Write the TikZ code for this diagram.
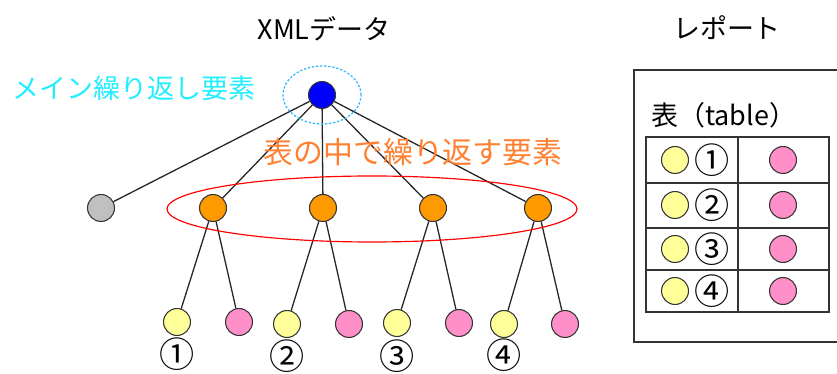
\documentclass[tikz,border=0pt]{standalone}
\usepackage{fontspec}
\setmainfont{Noto Sans CJK JP}
\usetikzlibrary{shapes}
\usepackage{xcolor}

\definecolor{rootblue}{HTML}{0000FF}
\definecolor{rowgray}{HTML}{C0C0C0}
\definecolor{rowor}{HTML}{FF9900}
\definecolor{keyyel}{HTML}{FFFF99}
\definecolor{valpink}{HTML}{FF8FC8}
\definecolor{labcyan}{HTML}{22EEFF}
\definecolor{laborange}{HTML}{FF8030}
\definecolor{ringblue}{HTML}{33BBFF}

\newcommand{\jpbig}{\fontsize{23pt}{26pt}\selectfont}
\newcommand{\jphuge}{\fontsize{25.5pt}{28pt}\selectfont}
\newcommand{\numfont}{\fontsize{30pt}{32pt}\selectfont}

\tikzset{
  elem/.style={circle,draw=black!80,line width=0.9pt,minimum size=23pt,inner sep=0pt},
  edge/.style={line width=1.1pt,black!85},
  txt/.style={inner sep=0pt,font=\jpbig},
  num/.style={inner sep=0pt,font=\numfont}
}

\begin{document}
\begin{tikzpicture}[x=0.03cm,y=-0.03cm]
          \useasboundingbox (0,0) rectangle (837,374);

          % titles
          \node[txt] (xmltitle) at (324,29) {XMLデータ};
          \node[txt] (reptitle) at (727,28) {レポート};

          % tree
          \node[elem,fill=rootblue] (root) at (322,95) {};
          \node[elem,fill=rowgray] (g) at (101,208) {};
          \node[elem,fill=rowor] (o1) at (213,208) {};
          \node[elem,fill=rowor] (o2) at (323,208) {};
          \node[elem,fill=rowor] (o3) at (433,208) {};
          \node[elem,fill=rowor] (o4) at (538,208) {};
          \node[elem,fill=keyyel] (y1) at (177,322) {};
          \node[elem,fill=valpink] (p1) at (239,322) {};
          \node[elem,fill=keyyel] (y2) at (287,324) {};
          \node[elem,fill=valpink] (p2) at (349,324) {};
          \node[elem,fill=keyyel] (y3) at (397,323) {};
          \node[elem,fill=valpink] (p3) at (459,323) {};
          \node[elem,fill=keyyel] (y4) at (504,324) {};
          \node[elem,fill=valpink] (p4) at (565,324) {};
          \node[num] (c1) at (177,354) {①};
          \node[num] (c2) at (287,356) {②};
          \node[num] (c3) at (397,356) {③};
          \node[num] (c4) at (504,355) {④};

          \draw[edge] (root) -- (g);
          \draw[edge] (root) -- (o1);
          \draw[edge] (root) -- (o2);
          \draw[edge] (root) -- (o3);
          \draw[edge] (root) -- (o4);
          \draw[edge] (o1) -- (y1);
          \draw[edge] (o1) -- (p1);
          \draw[edge] (o2) -- (y2);
          \draw[edge] (o2) -- (p2);
          \draw[edge] (o3) -- (y3);
          \draw[edge] (o3) -- (p3);
          \draw[edge] (o4) -- (y4);
          \draw[edge] (o4) -- (p4);

          % marks around the repeating elements
          \draw[ringblue,line width=1.1pt,dash pattern=on 2pt off 1.5pt] (root.center) ellipse [x radius=1.17cm,y radius=0.87cm];
          \draw[red,line width=1pt] (372,209) ellipse [x radius=6.15cm,y radius=0.99cm];
          \node[txt,text=labcyan] (mainlbl) at (134,88) {メイン繰り返し要素};
          \node[inner sep=0pt,font=\jphuge,text=laborange] (innerlbl) at (413,152) {表の中で繰り返す要素};

          % report page
          \draw[line width=1pt,black!80] (845,70) -- (634,70) -- (634,342) -- (845,342);
          \node[txt,anchor=west] (tbltitle) at (651,115) {表（table）};
          \draw[line width=1pt,black!80] (646,137) rectangle (829,312);
          \draw[line width=1pt,black!80] (646,183) -- (829,183);
          \draw[line width=1pt,black!80] (646,228) -- (829,228);
          \draw[line width=1pt,black!80] (646,270) -- (829,270);
          \draw[line width=1pt,black!80] (738,137) -- (738,312);
          \node[elem,fill=keyyel] (ty1) at (675,160) {};
          \node[elem,fill=keyyel] (ty2) at (675,205) {};
          \node[elem,fill=keyyel] (ty3) at (675,249) {};
          \node[elem,fill=keyyel] (ty4) at (675,291) {};
          \node[num] (tc1) at (712,160) {①};
          \node[num] (tc2) at (712,205) {②};
          \node[num] (tc3) at (712,249) {③};
          \node[num] (tc4) at (712,291) {④};
          \node[elem,fill=valpink] (tp1) at (783,160) {};
          \node[elem,fill=valpink] (tp2) at (783,205) {};
          \node[elem,fill=valpink] (tp3) at (783,249) {};
          \node[elem,fill=valpink] (tp4) at (783,291) {};
        \end{tikzpicture}
\end{document}
